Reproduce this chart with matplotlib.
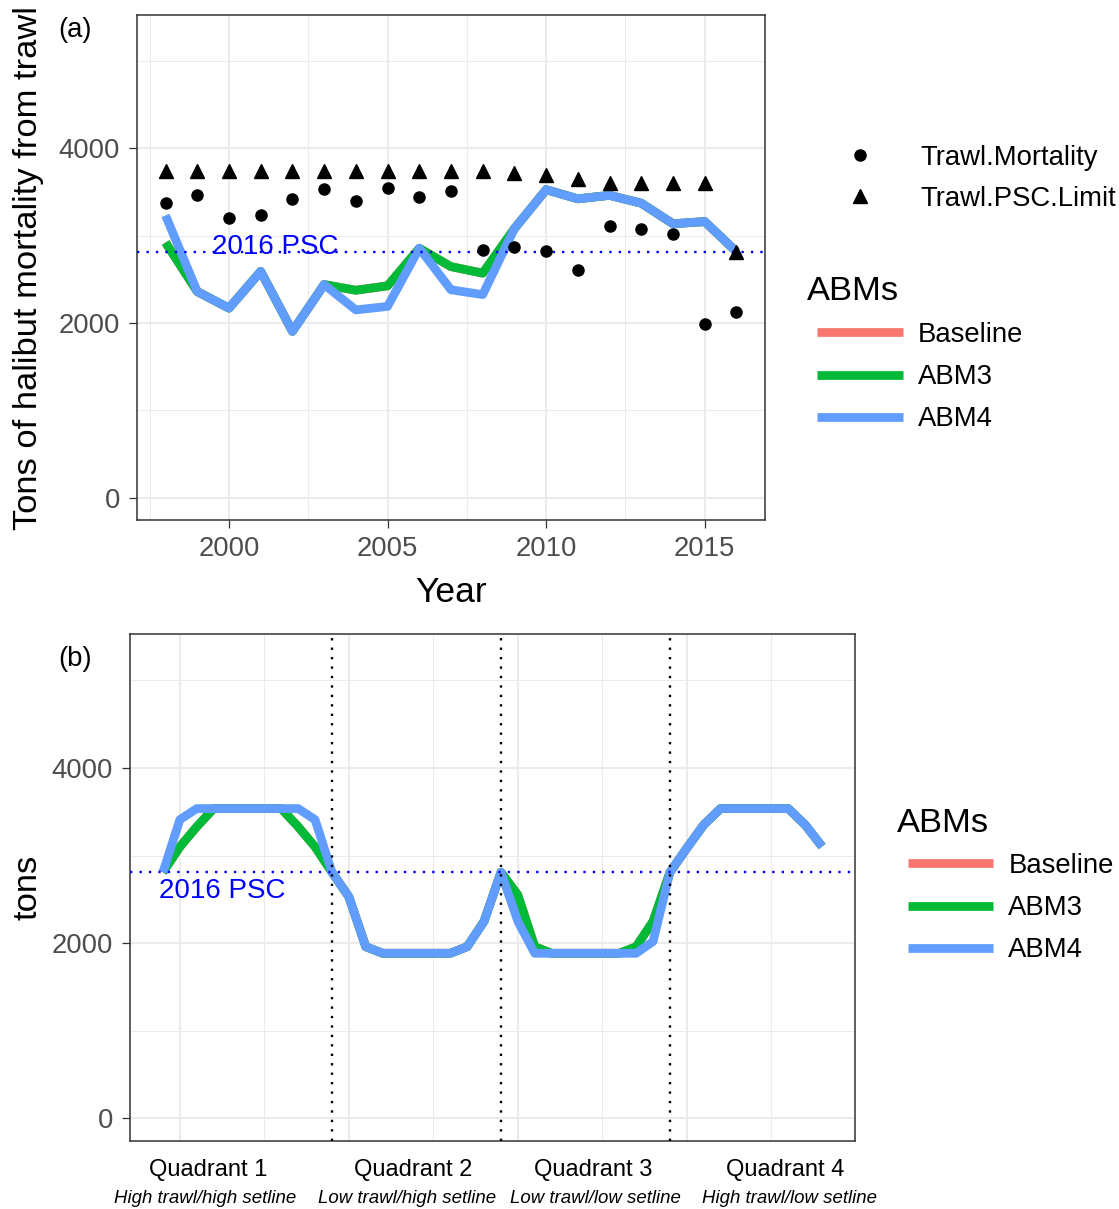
import numpy as np
import matplotlib
matplotlib.use("Agg")
import matplotlib.pyplot as plt
from matplotlib.ticker import FixedLocator

# ---------------- data ----------------
years = list(range(1998, 2017))
trawl_mortality = [3370, 3465, 3200, 3240, 3415, 3535, 3400, 3545, 3445, 3515,
                   2840, 2875, 2820, 2610, 3110, 3075, 3020, 1990, 2125]
trawl_psc_limit = [3740, 3740, 3740, 3740, 3740, 3740, 3740, 3740, 3740, 3740,
                   3740, 3710, 3695, 3650, 3605, 3605, 3605, 3605, 2815]

abm_names = ["Baseline", "ABM3", "ABM4"]

baseline_a = [2920, 2360, 2170, 2590, 1905, 2440, 2375, 2425, 2855, 2645,
              2570, 3080, 3525, 3420, 3460, 3370, 3135, 3160, 2815]
abm3_a = [2920, 2360, 2170, 2590, 1905, 2440, 2375, 2425, 2855, 2645,
          2570, 3080, 3525, 3420, 3460, 3370, 3135, 3160, 2815]
abm4_a = [3230, 2360, 2170, 2590, 1905, 2440, 2150, 2190, 2855, 2380,
          2325, 3080, 3525, 3420, 3460, 3370, 3135, 3160, 2815]

baseline_b = [2810, 3100, 3330, 3537, 3537, 3537, 3537, 3537, 3330, 3100,
              2810, 2530, 1960, 1885, 1885, 1885, 1885, 1885, 1960, 2250,
              2810, 2550, 1960, 1885, 1885, 1885, 1885, 1885, 1960, 2250,
              2810, 3086, 3352, 3537, 3537, 3537, 3537, 3537, 3352, 3104]
abm3_b = [2810, 3100, 3330, 3537, 3537, 3537, 3537, 3537, 3330, 3100,
          2810, 2530, 1960, 1885, 1885, 1885, 1885, 1885, 1960, 2250,
          2810, 2550, 1960, 1885, 1885, 1885, 1885, 1885, 1960, 2250,
          2810, 3086, 3352, 3537, 3537, 3537, 3537, 3537, 3352, 3104]
abm4_b = [2810, 3410, 3537, 3537, 3537, 3537, 3537, 3537, 3537, 3410,
          2810, 2530, 1960, 1885, 1885, 1885, 1885, 1885, 1960, 2250,
          2810, 2250, 1885, 1885, 1885, 1885, 1885, 1885, 1885, 2020,
          2810, 3086, 3352, 3537, 3537, 3537, 3537, 3537, 3352, 3104]

psc_2016 = 2810
quadrant_breaks = [10, 20, 30]
quadrant_labels = ["Quadrant 1", "Quadrant 2", "Quadrant 3", "Quadrant 4"]
quadrant_subs = ["High trawl/high setline", "Low trawl/high setline",
                 "Low trawl/low setline", "High trawl/low setline"]

# ---------------- style ----------------
plt.rcParams['font.family'] = ['Liberation Sans', 'DejaVu Sans']
colors = {"Baseline": "#F8766D", "ABM3": "#00BA38", "ABM4": "#619CFF"}

W, H = 1119, 1209
fig = plt.figure(figsize=(W / 100, H / 100), dpi=100)


def fx(px):
    return px / W


def fy(py):
    return 1 - py / H


def rect(l, t, r, b):
    return [l / W, 1 - b / H, (r - l) / W, (b - t) / H]


FS = 19.8          # tick / legend text size
FT = 24.8          # titles
f_px = FS * 100 / 72.0

ax_a = fig.add_axes(rect(137, 15, 765, 520))
ax_b = fig.add_axes(rect(130, 634, 855, 1141))

for ax in (ax_a, ax_b):
    ax.set_axisbelow(True)
    for s in ax.spines.values():
        s.set_color('#333333')
        s.set_linewidth(1.1)
    ax.grid(True, which='major', color='#EBEBEB', lw=1.45)
    ax.grid(True, which='minor', color='#EBEBEB', lw=0.72)
    ax.tick_params(which='minor', length=0)
    ax.tick_params(which='major', length=6, width=0.9, color='#333333',
                   labelsize=FS, labelcolor='#4D4D4D')
    ax.tick_params(axis='x', pad=5.5)
    ax.tick_params(axis='y', pad=6.3)
    ax.yaxis.set_major_locator(FixedLocator([0, 2000, 4000]))
    ax.yaxis.set_minor_locator(FixedLocator([1000, 3000, 5000]))

LW = 6.3

# ---------------- panel (a) ----------------
series_a = {"Baseline": baseline_a, "ABM3": abm3_a, "ABM4": abm4_a}
lines_a = []
for name in abm_names:
    ln, = ax_a.plot(years, series_a[name], color=colors[name], lw=LW,
                    solid_capstyle='butt', solid_joinstyle='round', zorder=3)
    lines_a.append(ln)
ax_a.axhline(psc_2016, color='#0000FF', lw=1.7, dashes=(1, 3), zorder=4)
h_mort, = ax_a.plot(years, trawl_mortality, 'o', color='black', ms=8,
                    linestyle='none', zorder=5)
h_lim, = ax_a.plot(years, trawl_psc_limit, '^', color='black', ms=9.5,
                   linestyle='none', zorder=5)
ax_a.text(2001.45, 2792, "2016 PSC", color='#0000FF', fontsize=20,
          ha='center', va='baseline', zorder=6)

ax_a.set_xlim(1997.1, 2016.9)
ax_a.set_ylim(-252, 5522)
ax_a.xaxis.set_major_locator(FixedLocator([2000, 2005, 2010, 2015]))
ax_a.xaxis.set_minor_locator(FixedLocator([1997.5, 2002.5, 2007.5, 2012.5]))

leg_shape = ax_a.legend(handles=[h_mort, h_lim],
                        labels=["Trawl.Mortality", "Trawl.PSC.Limit"],
                        loc='upper left',
                        bbox_to_anchor=(fx(860 - f_px), fy(165 - 0.73 * f_px)),
                        bbox_transform=fig.transFigure, frameon=False,
                        fontsize=FS, handlelength=2.0,
                        handletextpad=(920 - 860 - f_px) / f_px,
                        labelspacing=0.54, borderpad=0, borderaxespad=0,
                        numpoints=1)
ax_a.add_artist(leg_shape)
ax_a.legend(handles=lines_a, labels=abm_names, loc='upper left',
            bbox_to_anchor=(fx(817), fy(342 - 0.73 * f_px)),
            bbox_transform=fig.transFigure, frameon=False, fontsize=FS,
            handlelength=86 / f_px, handletextpad=15 / f_px,
            labelspacing=0.59, borderpad=0, borderaxespad=0)
fig.text(fx(807), fy(300), "ABMs", fontsize=FT, ha='left', va='baseline')

fig.text(fx(37), fy(268), "Tons of halibut mortality from trawl",
         rotation=90, rotation_mode='anchor', ha='center', va='baseline',
         fontsize=FT)
fig.text(fx(451), fy(602), "Year", ha='center', va='baseline', fontsize=25.5)
fig.text(fx(58), fy(37), "(a)", ha='left', va='baseline', fontsize=FS)

# ---------------- panel (b) ----------------
xb = np.arange(len(abm4_b))
series_b = {"Baseline": baseline_b, "ABM3": abm3_b, "ABM4": abm4_b}
lines_b = []
for name in abm_names:
    ln, = ax_b.plot(xb, series_b[name], color=colors[name], lw=LW,
                    solid_capstyle='butt', solid_joinstyle='round', zorder=3)
    lines_b.append(ln)
ax_b.axhline(psc_2016, color='#0000FF', lw=1.7, dashes=(1, 3), zorder=4)
for xq in quadrant_breaks:
    ax_b.axvline(xq, color='black', lw=1.7, dashes=(1, 3), zorder=4)
ax_b.text(3.5, 2518, "2016 PSC", color='#0000FF', fontsize=20,
          ha='center', va='baseline', zorder=6)

ax_b.set_xlim(-1.95, 40.95)
ax_b.set_ylim(-258, 5530)
ax_b.xaxis.set_major_locator(FixedLocator([1, 11, 21, 31]))
ax_b.xaxis.set_minor_locator(FixedLocator([6, 16, 26, 36]))
ax_b.tick_params(axis='x', which='both', length=0, labelbottom=False)

ax_b.legend(handles=lines_b, labels=abm_names, loc='upper left',
            bbox_to_anchor=(fx(908.3), fy(873 - 0.73 * f_px)),
            bbox_transform=fig.transFigure, frameon=False, fontsize=FS,
            handlelength=85 / f_px, handletextpad=15 / f_px,
            labelspacing=0.59, borderpad=0, borderaxespad=0)
fig.text(fx(897), fy(832), "ABMs", fontsize=FT, ha='left', va='baseline')

fig.text(fx(37), fy(887), "tons", rotation=90, rotation_mode='anchor',
         ha='center', va='baseline', fontsize=FT)
fig.text(fx(58), fy(666), "(b)", ha='left', va='baseline', fontsize=FS)

q_centers = [208.5, 413.5, 593.5, 785.5]
s_centers = [205, 407, 595.5, 789.5]
for lab, cx in zip(quadrant_labels, q_centers):
    fig.text(fx(cx), fy(1176), lab, ha='center', va='baseline', fontsize=17)
for lab, cx in zip(quadrant_subs, s_centers):
    fig.text(fx(cx), fy(1203), lab, ha='center', va='baseline', fontsize=13.4,
             style='italic')

fig.savefig("out.png", dpi=100)
